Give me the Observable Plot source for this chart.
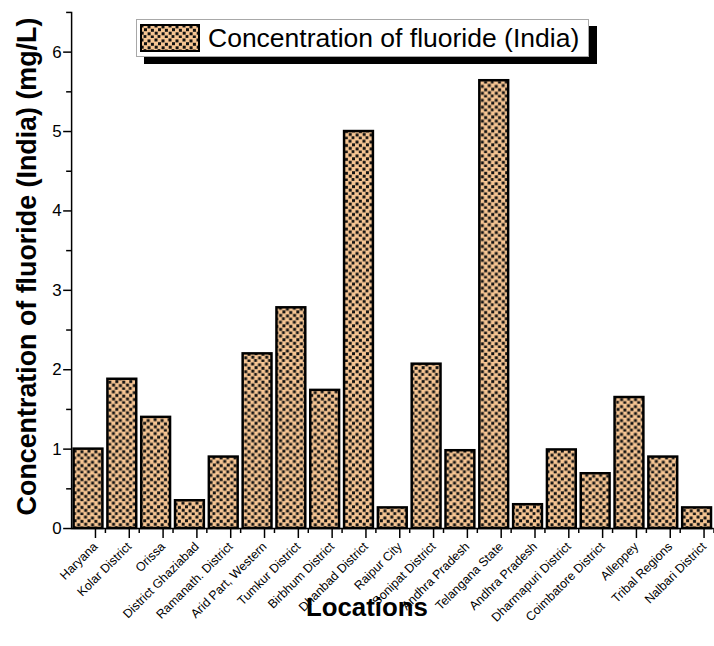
<!DOCTYPE html>
<html><head><meta charset="utf-8">
<script src="https://cdn.jsdelivr.net/npm/d3@7"></script>
<script src="https://cdn.jsdelivr.net/npm/@observablehq/plot@0.6"></script>
<style>
body{margin:0;overflow:hidden;background:#fff;font-family:"Liberation Sans",Arial,sans-serif;}
#wrap{position:relative;width:714px;height:646px;overflow:hidden;}
#legend{position:absolute;left:136px;top:19px;width:451px;height:36px;border:1px solid #a8a8a8;background:#fff;box-shadow:8px 7px 0 #000;display:flex;align-items:center;}
#legend .sw{margin-left:3px;width:60px;height:28px;box-sizing:border-box;flex:none;}
#legend .lt{margin-left:8px;font-size:26.5px;color:#000;white-space:nowrap;}
</style></head><body>
<svg width="0" height="0" style="position:absolute">
  <defs>
    <pattern id="dots" patternUnits="userSpaceOnUse" width="14" height="14">
      <rect width="14" height="14" fill="#f6c593"/>
      <g fill="#111">
        <rect x="0.5" y="0.5" width="3" height="3"/>
        <rect x="7.5" y="1.4" width="3" height="3"/>
        <rect x="4.0" y="4.2" width="3" height="3"/>
        <rect x="10.9" y="4.8" width="3" height="3"/>
        <rect x="0.7" y="7.7" width="3" height="3"/>
        <rect x="7.6" y="8.3" width="3" height="3"/>
        <rect x="3.6" y="11.1" width="2.8" height="2.8"/>
        <rect x="10.8" y="11.5" width="3" height="2.5"/>
      </g>
    </pattern>
  </defs>
</svg>
<div id="wrap">
  <div id="chart"></div>
  <div id="legend">
    <svg class="sw" width="60" height="28"><rect x="1" y="1" width="58" height="26" fill="url(#dots)" stroke="#000" stroke-width="2"/></svg>
    <span class="lt">Concentration of fluoride (India)</span>
  </div>
</div>
<script>
const locations = ["Haryana","Kolar District","Orissa","District Ghaziabad","Ramanath. District","Arid Part, Western","Tumkur District","Birbhum District","Dhanbad District","Raipur City","Sonipat District","Andhra Pradesh","Telangana State","Andhra Pradesh","Dharmapuri District","Coimbatore District","Alleppey","Tribal Regions","Nalbari District"];
const fluoride = [1.0, 1.88, 1.4, 0.35, 0.9, 2.2, 2.78, 1.74, 5.0, 0.26, 2.07, 0.98, 5.64, 0.3, 0.99, 0.69, 1.65, 0.9, 0.26];
const yTicks = [0, 1, 2, 3, 4, 5, 6];
const yMinorTicks = [0.5, 1.5, 2.5, 3.5, 4.5, 5.5, 6.5];
const xTitle = "Locations";
const yTitle = "Concentration of fluoride (India) (mg/L)";

const data = locations.map((name, i) => ({i, name, value: fluoride[i]}));
const idx = d3.range(locations.length);

const chart = Plot.plot({
  width: 718, height: 646,
  marginLeft: 71.5, marginRight: 0.5, marginTop: 12, marginBottom: 115,
  style: {fontFamily: "'Liberation Sans', Arial, sans-serif", color: "#000", background: "#fff", overflow: "visible"},
  x: {type: "band", domain: idx, paddingInner: 0.15, paddingOuter: 0.075, align: 0.5, axis: null},
  y: {domain: [0, 6.5], axis: null},
  marks: [
    Plot.barY(data, {x: "i", y: "value", fill: "url(#dots)", stroke: "#000", strokeWidth: 2.5}),
    Plot.ruleY([0], {strokeWidth: 1.5}),
    Plot.frame({anchor: "left", strokeWidth: 1.5}),
    Plot.axisY({ticks: yTicks, tickSize: 8, tickPadding: 2, fontSize: 17, label: null, strokeWidth: 1.5, tickFormat: d => String(d)}),
    Plot.axisY({ticks: yMinorTicks, tickSize: 5, tickFormat: () => "", label: null, strokeWidth: 1.5}),
    Plot.axisX({ticks: idx, tickSize: 10, tickPadding: 6, tickRotate: -45, fontSize: 12.5, dx: 7, tickFormat: i => locations[i], label: null, strokeWidth: 1.5}),
    Plot.axisX({ticks: idx, tickSize: 5, tickFormat: () => "", label: null, dx: 17, strokeWidth: 1.5}),
    Plot.text([xTitle], {frameAnchor: "bottom", dx: -26, dy: 88, fontSize: 26, fontWeight: "bold"}),
    Plot.text([yTitle], {frameAnchor: "left", textAnchor: "middle", rotate: -90, dx: -44, dy: -4, fontSize: 27, fontWeight: "bold"})
  ]
});
document.getElementById("chart").appendChild(chart);
</script>
</body></html>
